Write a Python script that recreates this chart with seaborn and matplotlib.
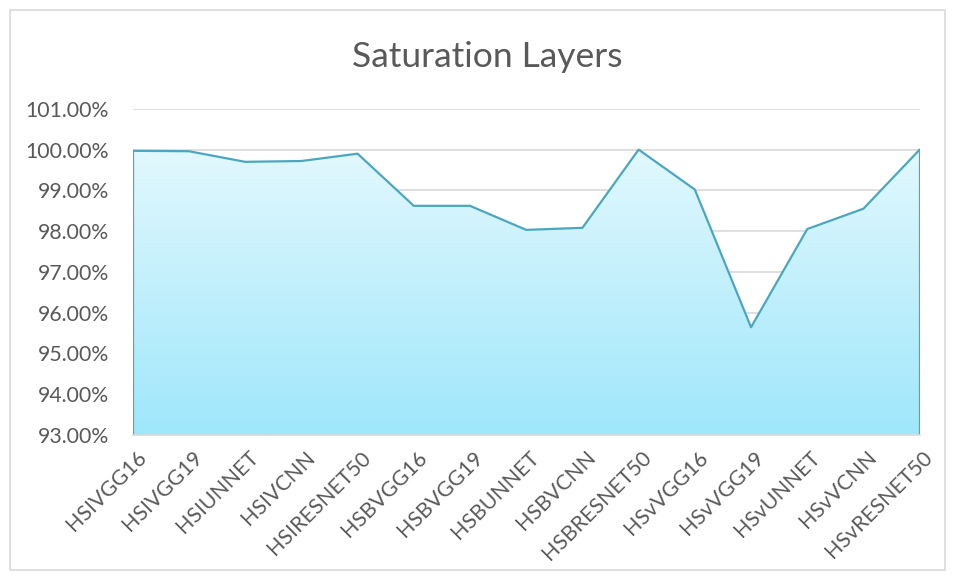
import numpy as np
import pandas as pd
import matplotlib
matplotlib.use('Agg')
import matplotlib.pyplot as plt
import seaborn as sns
from matplotlib.patches import Rectangle

# values (percent)
models = ["HSIVGG16", "HSIVGG19", "HSIUNNET", "HSIVCNN", "HSIRESNET50",
          "HSBVGG16", "HSBVGG19", "HSBUNNET", "HSBVCNN", "HSBRESNET50",
          "HSvVGG16", "HSvVGG19", "HSvUNNET", "HSvVCNN", "HSvRESNET50"]
saturation = [99.97, 99.96, 99.70, 99.72, 99.90,
              98.62, 98.62, 98.03, 98.08, 100.00,
              99.02, 95.64, 98.05, 98.55, 100.00]
y_ticks = [93, 94, 95, 96, 97, 98, 99, 100, 101]

df = pd.DataFrame({'model': models, 'value': saturation})
df['pos'] = range(len(df))

sns.set_style('white')
plt.rcParams['font.family'] = ['Lato', 'DejaVu Sans']

fig = plt.figure(figsize=(9.55, 5.79), dpi=100)
ax = fig.add_axes([0.139, 0.249, 0.824, 0.563])

ymin, ymax = 93, 101
ax.set_ylim(ymin, ymax)
ax.set_xlim(0, len(models) - 1)

# gridlines
for t in y_ticks:
    ax.axhline(t, color='#d9d9d9', lw=1.2, zorder=0)

# gradient area fill
poly = ax.fill_between(df['pos'], df['value'], ymin, color='none', zorder=1)
grad = np.linspace(0, 1, 256).reshape(-1, 1)
cmap = matplotlib.colors.LinearSegmentedColormap.from_list('g', ['#9fe7fb', '#e2f8fe'])
img = ax.imshow(grad, cmap=cmap, aspect='auto', origin='lower',
                extent=[0, len(models) - 1, ymin, 100.0], zorder=1)
img.set_clip_path(poly.get_paths()[0], transform=ax.transData)
ax.plot([0, 0], [ymin, saturation[0]], color='#4ba7c1', lw=1.6, zorder=2)
ax.plot([len(models) - 1] * 2, [ymin, saturation[-1]], color='#4ba7c1', lw=1.6, zorder=2)

sns.lineplot(data=df, x='pos', y='value', color='#4ba7c1', lw=1.6, ax=ax, zorder=3)

ax.set_yticks(y_ticks)
ax.set_yticklabels([f"{t:.2f}%" for t in y_ticks])
ax.set_xticks(df['pos'])
ax.set_xticklabels(models, rotation=45, ha='right', va='top', rotation_mode='anchor')
ax.tick_params(axis='y', length=0, pad=17, labelsize=15.3, labelcolor='#595959')
ax.tick_params(axis='x', length=6, width=1, color='#d9d9d9', direction='out',
               pad=3, labelsize=15.3, labelcolor='#595959')
for lbl in ax.get_xticklabels():
    lbl.set_transform(lbl.get_transform() + matplotlib.transforms.ScaledTranslation(3/100, 0, fig.dpi_scale_trans))

for s in ['top', 'right', 'left']:
    ax.spines[s].set_visible(False)
ax.spines['bottom'].set_color('#d9d9d9')
ax.spines['bottom'].set_linewidth(1.2)
ax.set_xlabel('')
ax.set_ylabel('')

fig.text(0.51, 0.902, 'Saturation Layers', ha='center', va='center',
         fontsize=25.5, color='#595959')

fig.patches.append(Rectangle((0.01, 0.015), 0.98, 0.968, transform=fig.transFigure,
                             fill=False, edgecolor='#d9d9d9', lw=1.2))

plt.savefig('out.png', dpi=100)
